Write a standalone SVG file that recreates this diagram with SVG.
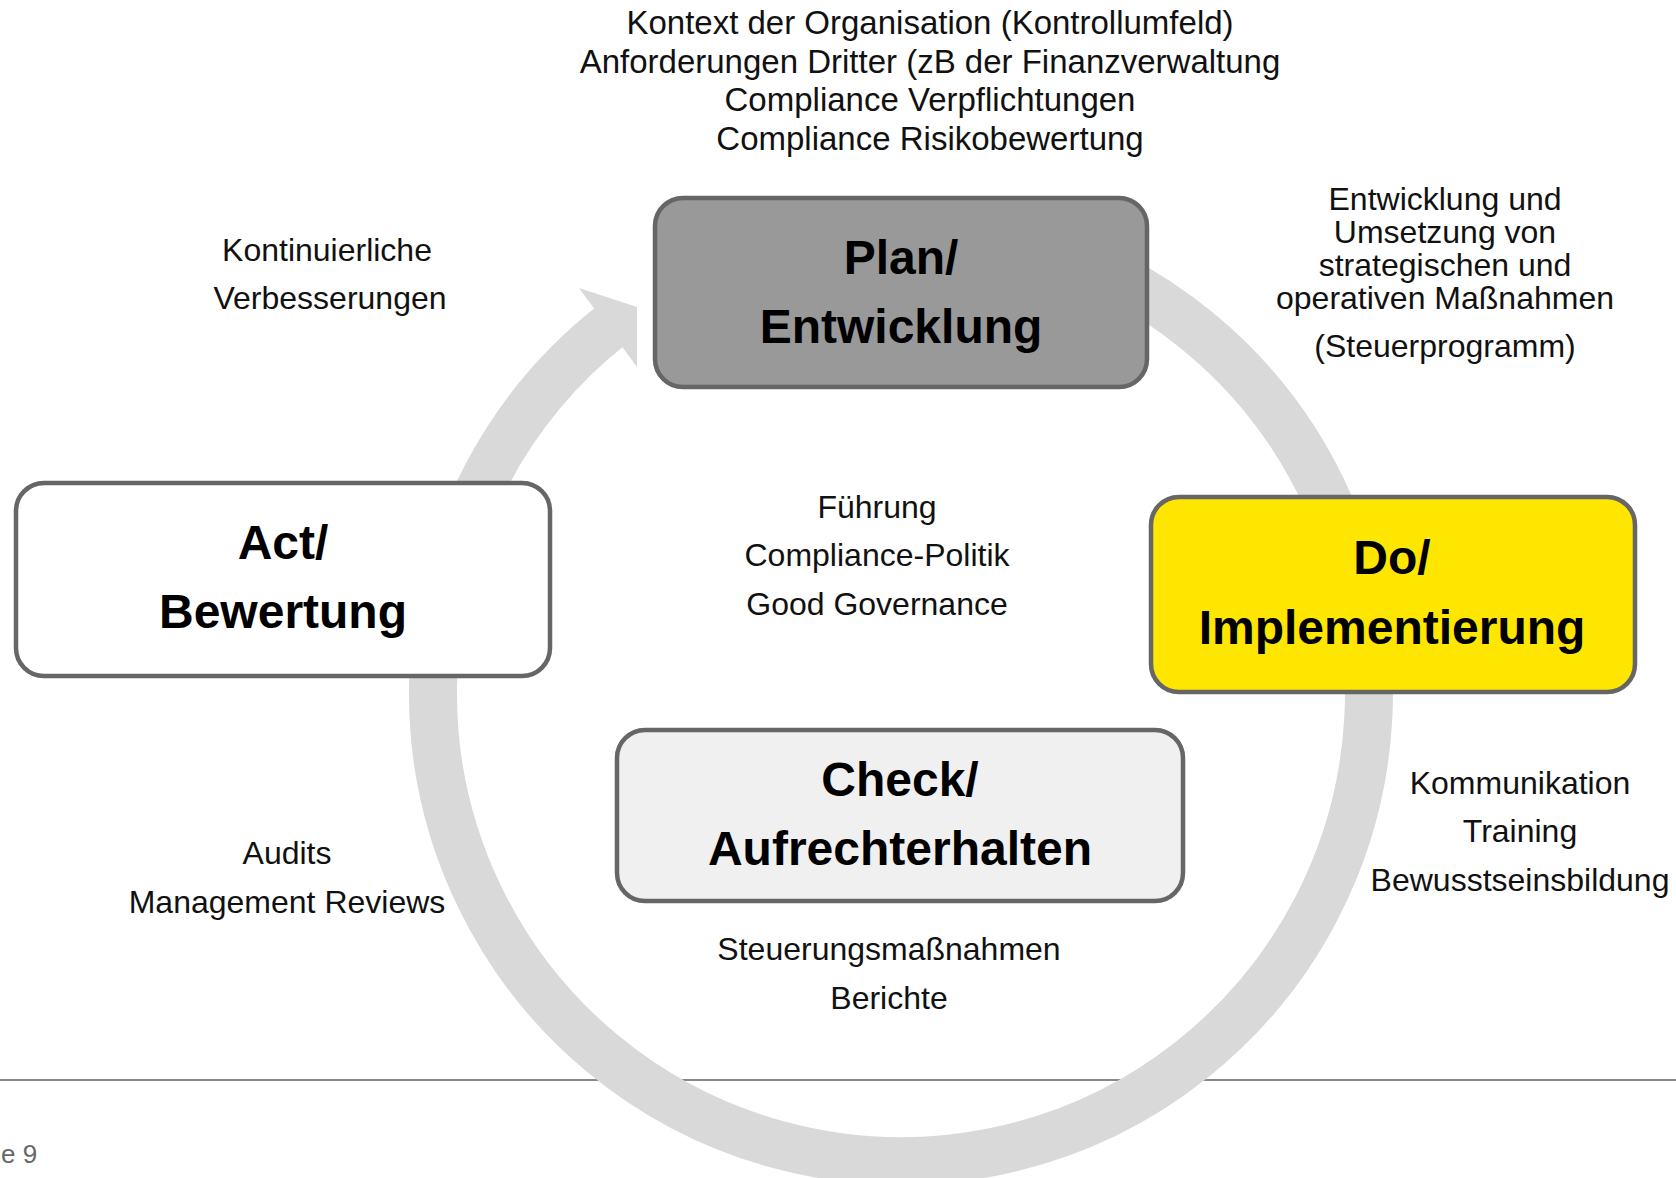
<svg xmlns="http://www.w3.org/2000/svg" width="1676" height="1178" viewBox="0 0 1676 1178">
<style>
.lbl{font-family:"Liberation Sans",Arial,sans-serif;font-size:32px;fill:#111;text-anchor:middle}
.top{font-size:33px}
.box{stroke:#666666;stroke-width:4.5}
.bt{font-family:"Liberation Sans",Arial,sans-serif;font-size:48px;font-weight:bold;fill:#000;text-anchor:middle}
.ring{fill:none;stroke:#D9D9D9;stroke-width:48}
</style>
<rect width="1676" height="1178" fill="#ffffff"/>
<line x1="0" y1="1080" x2="1676" y2="1080" stroke="#8a8a8a" stroke-width="2"/>
<text x="1" y="1163" font-family="'Liberation Sans',Arial,sans-serif" font-size="26" fill="#666666">e 9</text>
<g id="connectors">
<path class="ring" d="M 1022.1 241.0 A 468 468 0 1 1 612.9 324.2"/>
<polygon points="579,288 637,307 637,367" fill="#D9D9D9"/>
</g>
<g id="plan">
<rect class="box" x="655" y="198" width="492" height="189" rx="28" fill="#999999"/>
<text class="bt" x="901" y="274">Plan/</text>
<text class="bt" x="901" y="343">Entwicklung</text>
</g>
<g id="act">
<rect class="box" x="16" y="483" width="534" height="193" rx="28" fill="#ffffff"/>
<text class="bt" x="283" y="559">Act/</text>
<text class="bt" x="283" y="628">Bewertung</text>
</g>
<g id="do">
<rect class="box" x="1151" y="497" width="484" height="195" rx="28" fill="#FFE600"/>
<text class="bt" x="1392" y="574">Do/</text>
<text class="bt" x="1392" y="644">Implementierung</text>
</g>
<g id="check">
<rect class="box" x="617" y="730" width="566" height="171" rx="28" fill="#F0F0F0"/>
<text class="bt" x="900" y="796">Check/</text>
<text class="bt" x="900" y="865">Aufrechterhalten</text>
</g>
<g id="context">
<text class="lbl top" x="930" y="34">Kontext der Organisation (Kontrollumfeld)</text>
<text class="lbl top" x="930" y="73">Anforderungen Dritter (zB der Finanzverwaltung</text>
<text class="lbl top" x="930" y="111">Compliance Verpflichtungen</text>
<text class="lbl top" x="930" y="150">Compliance Risikobewertung</text>
</g>
<g id="improve">
<text class="lbl" x="327" y="261">Kontinuierliche</text>
<text class="lbl" x="330" y="309">Verbesserungen</text>
</g>
<g id="plan-notes">
<text class="lbl" x="1445" y="210">Entwicklung und</text>
<text class="lbl" x="1445" y="243">Umsetzung von</text>
<text class="lbl" x="1445" y="276">strategischen und</text>
<text class="lbl" x="1445" y="309">operativen Maßnahmen</text>
<text class="lbl" x="1445" y="357">(Steuerprogramm)</text>
</g>
<g id="center">
<text class="lbl" x="877" y="518">Führung</text>
<text class="lbl" x="877" y="566">Compliance-Politik</text>
<text class="lbl" x="877" y="615">Good Governance</text>
</g>
<g id="do-notes">
<text class="lbl" x="1520" y="794">Kommunikation</text>
<text class="lbl" x="1520" y="842">Training</text>
<text class="lbl" x="1520" y="891">Bewusstseinsbildung</text>
</g>
<g id="act-notes">
<text class="lbl" x="287" y="864">Audits</text>
<text class="lbl" x="287" y="913">Management Reviews</text>
</g>
<g id="check-notes">
<text class="lbl" x="889" y="960">Steuerungsmaßnahmen</text>
<text class="lbl" x="889" y="1009">Berichte</text>
</g>
</svg>
